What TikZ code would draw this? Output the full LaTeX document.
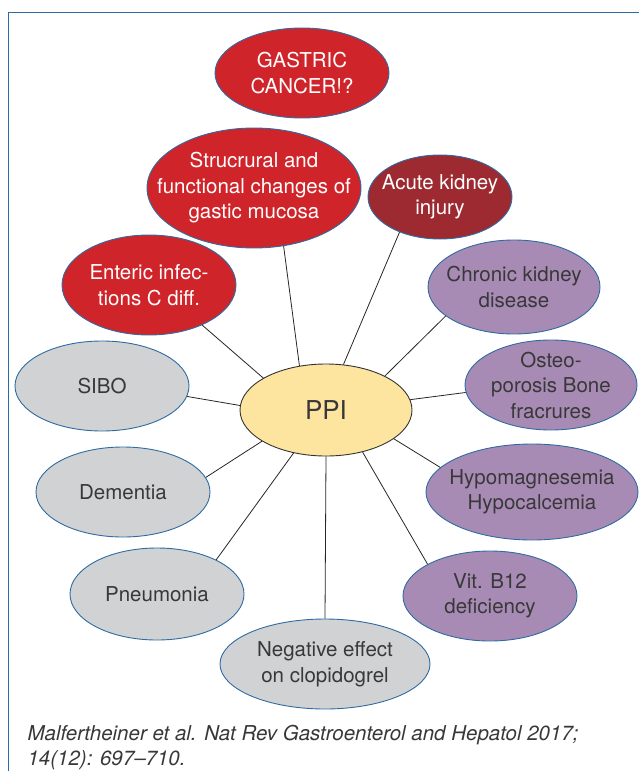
\documentclass[tikz,border=0pt]{standalone}
\usepackage{fontspec}
\setmainfont{TeX Gyre Heros}
\usetikzlibrary{shapes.geometric}

\definecolor{frameblue}{HTML}{2F6BA3}
\definecolor{riskred}{HTML}{D0242B}
\definecolor{darkred}{HTML}{9C2A30}
\definecolor{lilac}{HTML}{A88BB5}
\definecolor{lightgray}{HTML}{D1D2D4}
\definecolor{ppiyellow}{HTML}{FDE5A0}
\definecolor{txtgray}{HTML}{383838}

\begin{document}
\begin{tikzpicture}[x=1pt, y=-1pt,
    bubble/.style={ellipse, draw=frameblue, line width=0.9pt, inner sep=0pt},
    redb/.style={bubble, fill=riskred},
    darkb/.style={bubble, fill=darkred},
    lilacb/.style={bubble, fill=lilac},
    grayb/.style={bubble, fill=lightgray},
    txt/.style={align=center, font=\fontsize{20.5}{25.5}\selectfont, text=txtgray},
    wtxt/.style={txt, text=white},
    link/.style={draw=black!85, line width=0.8pt}]
    \useasboundingbox (0,0) rectangle (639,771);

    % 1. 外框
    \draw[frameblue, line width=0.9pt] (639,12) -- (8,12) -- (8,771);

    % 2. 中心 PPI
    \node[bubble, draw=black!80, fill=ppiyellow, minimum width=172pt, minimum height=92pt] (ppi) at (326,410) {};
    \node[txt, font=\fontsize{26}{30}\selectfont] (ppi-t) at (ppi) {PPI};

    % 3. 红色 (上方)
    \node[redb, minimum width=174pt, minimum height=90pt] (gc) at (302,73) {};
    \node[wtxt] (gc-t) at (gc) {GASTRIC\\CANCER!?};
    \node[redb, minimum width=214pt, minimum height=120pt] (muc) at (254,188) {};
    \node[wtxt] (muc-t) at (muc) {Strucrural and\\functional changes of\\gastic mucosa};
    \node[darkb, minimum width=144pt, minimum height=84pt] (aki) at (440,197) {};
    \node[wtxt] (aki-t) at (aki) {Acute kidney\\injury};
    \node[redb, minimum width=174pt, minimum height=100pt] (ent) at (149,285) {};
    \node[wtxt] (ent-t) at (ent) {Enteric infec-\\tions C diff.};

    % 4. 紫色 (右侧)
    \node[lilacb, minimum width=172pt, minimum height=94pt] (ckd) at (514,287) {};
    \node[txt] (ckd-t) at (ckd) {Chronic kidney\\disease};
    \node[lilacb, minimum width=172pt, minimum height=90pt] (ost) at (551,385) {};
    \node[txt] (ost-t) at (ost) {Osteo-\\porosis Bone\\fracrures};
    \node[lilacb, minimum width=212pt, minimum height=96pt] (hyp) at (532,492) {};
    \node[txt] (hyp-t) at (hyp) {Hypomagnesemia\\Hypocalcemia};
    \node[lilacb, minimum width=174pt, minimum height=90pt] (b12) at (490,596) {};
    \node[txt] (b12-t) at (b12) {Vit. B12\\deficiency};

    % 5. 灰色 (左侧与下方)
    \node[grayb, minimum width=174pt, minimum height=90pt] (sibo) at (102,386) {};
    \node[txt] (sibo-t) at (sibo) {SIBO};
    \node[grayb, minimum width=174pt, minimum height=90pt] (dem) at (123,492) {};
    \node[txt] (dem-t) at (dem) {Dementia};
    \node[grayb, minimum width=174pt, minimum height=92pt] (pne) at (157,594) {};
    \node[txt] (pne-t) at (pne) {Pneumonia};
    \node[grayb, minimum width=210pt, minimum height=90pt] (clo) at (325,664) {};
    \node[txt] (clo-t) at (clo) {Negative effect\\on clopidogrel};

    % 6. 连线
    \draw[link] (ppi.121) -- (muc.297);
    \draw[link] (ppi.69) -- (aki.221);
    \draw[link] (ppi.153) -- (ent.323);
    \draw[link] (ppi.30) -- (ckd.203);
    \draw[link] (ppi.177) -- (sibo.-7);
    \draw[link] (ppi.7) -- (ost.185);
    \draw[link] (ppi.206) -- (dem.10);
    \draw[link] (ppi.-23) -- (hyp.165);
    \draw[link] (ppi.233) -- (pne.30);
    \draw[link] (ppi.311) -- (b12.153);
    \draw[link] (ppi.270) -- (clo.90);

    % 7. 出处
    \node[anchor=base west, font=\fontsize{20.5}{25}\selectfont\itshape, text=txtgray] (cap1) at (24,740) {Malfertheiner et al. Nat Rev Gastroenterol and Hepatol 2017;};
    \node[anchor=base west, font=\fontsize{20.5}{25}\selectfont\itshape, text=txtgray] (cap2) at (24,765) {14(12): 697–710.};

\end{tikzpicture}
\end{document}
